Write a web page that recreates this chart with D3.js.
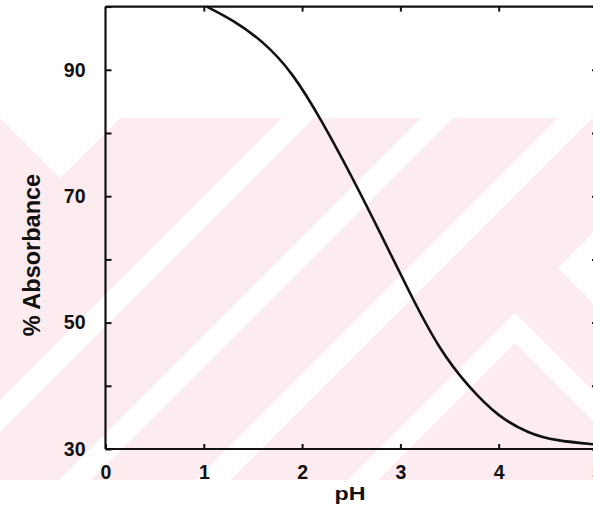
<!DOCTYPE html>
<html>
<head>
<meta charset="utf-8">
<script src="https://cdn.jsdelivr.net/npm/d3@7"></script>
<style>
  html, body { margin: 0; padding: 0; background: #ffffff; }
  svg { display: block; }
  text { font-family: "Liberation Sans", Arial, Helvetica, sans-serif; font-weight: bold; fill: #111; }
</style>
</head>
<body>
<svg id="chart" width="593" height="515"></svg>
<script>
// ---- data ----
const pH =         [1.03, 1.3,  1.6,  1.9,  2.2,  2.5,  2.8,  3.1,  3.4,  3.7,  4.0,  4.3,  4.6,  5.0];
const absorbance = [100,  97.7, 94.3, 89.2, 81.8, 73.2, 64.0, 54.6, 46.1, 39.9, 35.4, 32.7, 31.4, 30.7];
const xTicks = [0, 1, 2, 3, 4, 5];
const xTopTicks = [1, 2, 3, 4];
const yTicks = [30, 40, 50, 60, 70, 80, 90, 100];
const yLabels = [30, 50, 70, 90];
const xTitle = "pH";
const yTitle = "% Absorbance";

// ---- background watermark decoration (pixel space) ----
const wmBand = { top: 118, bottom: 480 };
const slashStripes = [ [400, 432], [539, 571], [676, 710] ];   // white "/" bands: x+y in range
const chevrons = [ // white "^" chevrons: apex sum/diff, thickness
  { s: 830, d: 60, t: 32 },
  { s: 828, d: 202, t: 30 }
];
const rightNotch = { s: 826, d: 290 };
const leftVee = { d: -118, s: 238 };

(function draw() {
const svg = d3.select("#chart");
const W = 593, H = 515;

const x = d3.scaleLinear().domain([0, 5]).range([105.5, 597]);
const y = d3.scaleLinear().domain([30, 100]).range([449, 6.6]);

// watermark
const pink = "#fdecef";
const defs = svg.append("defs");
defs.append("clipPath").attr("id", "wmclip").append("rect")
  .attr("x", 0).attr("y", wmBand.top).attr("width", W).attr("height", wmBand.bottom - wmBand.top);
const wm = svg.append("g").attr("clip-path", "url(#wmclip)");
wm.append("rect").attr("x", 0).attr("y", wmBand.top).attr("width", W).attr("height", wmBand.bottom - wmBand.top).attr("fill", pink);
const big = 2000;
const pts = arr => arr.map(p => p.join(",")).join(" ");
slashStripes.forEach(([a, b]) => {
  wm.append("polygon")
    .attr("points", pts([[a + big, -big], [b + big, -big], [b - big, big], [a - big, big]]))
    .attr("fill", "#fff");
});
function tri(s, d, fill) {
  const ax = (s + d) / 2, ay = (s - d) / 2;
  wm.append("polygon")
    .attr("points", pts([[ax, ay], [ax - big, ay + big], [ax + big, ay + big]]))
    .attr("fill", fill);
}
chevrons.forEach(c => {
  tri(c.s, c.d, "#fff");
  tri(c.s + c.t, c.d - c.t, pink);
});
{
  const ax = (rightNotch.s + rightNotch.d) / 2, ay = (rightNotch.s - rightNotch.d) / 2;
  wm.append("polygon")
    .attr("points", pts([[ax, ay], [ax + big, ay - big], [ax + big, ay + big]]))
    .attr("fill", "#fff");
}
{
  const ax = (leftVee.s + leftVee.d) / 2, ay = (leftVee.s - leftVee.d) / 2;
  wm.append("polygon")
    .attr("points", pts([[ax, ay], [ax - big, ay - big], [ax + big, ay - big]]))
    .attr("fill", "#fff");
}

// ---- axes ----
const axisColor = "#111";
const gLeft = svg.append("g").attr("transform", `translate(${x(0)},0)`)
  .call(d3.axisLeft(y).tickValues(yTicks).tickSize(-6).tickPadding(20)
    .tickFormat(d => yLabels.includes(d) ? d : ""));
const gRight = svg.append("g").attr("transform", `translate(${x(5)},0)`)
  .call(d3.axisRight(y).tickValues(yTicks).tickSize(-5).tickFormat(""));
const gBottom = svg.append("g").attr("transform", `translate(0,${y(30)})`)
  .call(d3.axisBottom(x).tickValues(xTicks).tickSize(-5).tickPadding(16).tickFormat(d3.format("d")));
const gTop = svg.append("g").attr("transform", `translate(0,${y(100)})`)
  .call(d3.axisTop(x).tickValues(xTopTicks).tickSize(-5).tickFormat(""));

[gLeft, gRight, gBottom, gTop].forEach(g => {
  g.select(".domain").attr("stroke", axisColor).attr("stroke-width", 2.2);
  g.selectAll(".tick line").attr("stroke", axisColor).attr("stroke-width", 2);
  g.selectAll(".tick text").attr("fill", "#111").style("font-size", "19.5px")
    .style("font-family", '"Liberation Sans", Arial, sans-serif').style("font-weight", "bold");
});
gLeft.select(".domain").attr("d", `M0,${y(100)}V${y(30)}`);
gRight.select(".domain").attr("d", `M0,${y(100)}V${y(30)}`);
gBottom.select(".domain").attr("d", `M${x(0)},0H${x(5)}`);
gTop.select(".domain").attr("d", `M${x(0)},0H${x(5)}`);

// ---- curve ----
const line = d3.line().x((d, i) => x(pH[i])).y((d, i) => y(absorbance[i])).curve(d3.curveNatural);
svg.append("path").datum(pH).attr("d", line)
  .attr("fill", "none").attr("stroke", "#111").attr("stroke-width", 2.6);

// ---- titles ----
svg.append("text").attr("x", 350).attr("y", 500).attr("text-anchor", "middle")
  .attr("textLength", 31).attr("lengthAdjust", "spacingAndGlyphs")
  .style("font-size", "19px").text(xTitle);
svg.append("text").attr("transform", "translate(40,255) rotate(-90)").attr("text-anchor", "middle")
  .style("font-size", "23.5px").text(yTitle);
})();
</script>
</body>
</html>
